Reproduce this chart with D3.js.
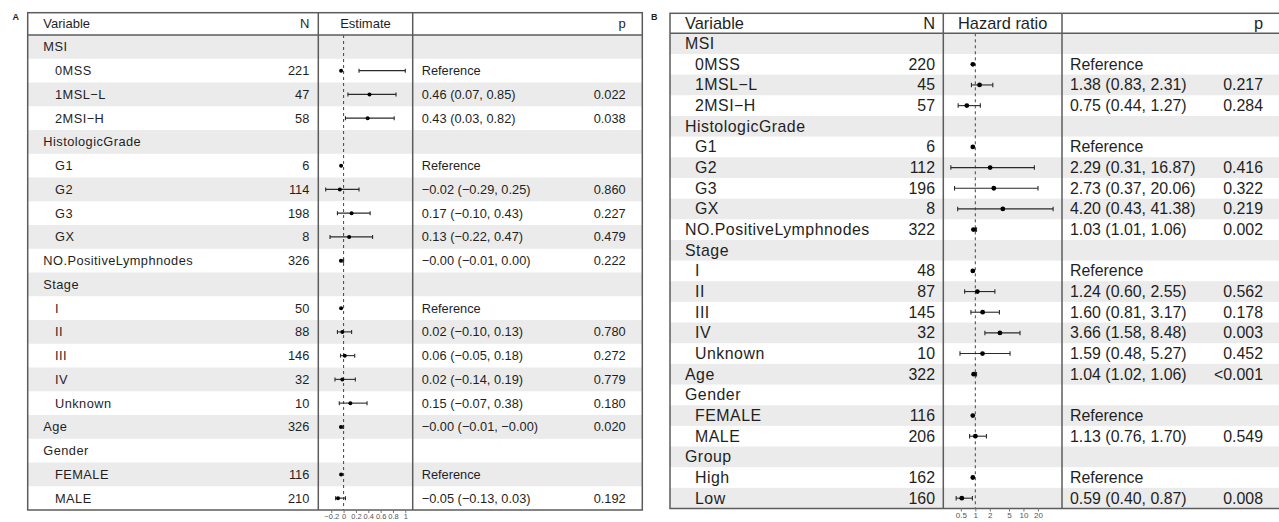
<!DOCTYPE html>
<html>
<head>
<meta charset="utf-8">
<script src="https://cdn.jsdelivr.net/npm/d3@7"></script>
<style>
  html, body { margin: 0; padding: 0; background: #fff; }
  svg { display: block; font-family: "Liberation Sans", Arial, Helvetica, sans-serif; }
</style>
</head>
<body>
<svg id="chart" width="1279" height="522"></svg>
<script>
// ---- Panel A: linear regression estimates ----
const labelsA = ["MSI", "0MSS", "1MSL−L", "2MSI−H", "HistologicGrade", "G1", "G2", "G3", "GX",
  "NO.PositiveLymphnodes", "Stage", "I", "II", "III", "IV", "Unknown", "Age", "Gender", "FEMALE", "MALE"];
const indentA = [0, 1, 1, 1, 0, 1, 1, 1, 1, 0, 0, 1, 1, 1, 1, 1, 0, 0, 1, 1];
const nA = [null, 221, 47, 58, null, 6, 114, 198, 8, 326, null, 50, 88, 146, 32, 10, 326, null, 116, 210];
const refA = [0, 1, 0, 0, 0, 1, 0, 0, 0, 0, 0, 1, 0, 0, 0, 0, 0, 0, 1, 0];
const estA = [null, 0, 0.46, 0.43, null, 0, -0.02, 0.17, 0.13, -0.003, null, 0, 0.02, 0.06, 0.02, 0.15, -0.003, null, 0, -0.05];
const lowA = [null, 0.25, 0.07, 0.03, null, null, -0.29, -0.10, -0.22, -0.01, null, null, -0.10, -0.05, -0.14, -0.07, -0.01, null, null, -0.13];
const highA = [null, 1.0, 0.85, 0.82, null, null, 0.25, 0.43, 0.47, 0.00, null, null, 0.13, 0.18, 0.19, 0.38, -0.001, null, null, 0.03];
const pA = ["", "", "0.022", "0.038", "", "", "0.860", "0.227", "0.479", "0.222", "", "", "0.780", "0.272", "0.779", "0.180", "0.020", "", "", "0.192"];
const ticksA = [-0.2, 0, 0.2, 0.4, 0.6, 0.8, 1];

// ---- Panel B: Cox hazard ratios ----
const labelsB = ["MSI", "0MSS", "1MSL−L", "2MSI−H", "HistologicGrade", "G1", "G2", "G3", "GX",
  "NO.PositiveLymphnodes", "Stage", "I", "II", "III", "IV", "Unknown", "Age", "Gender", "FEMALE", "MALE",
  "Group", "High", "Low"];
const indentB = [0, 1, 1, 1, 0, 1, 1, 1, 1, 0, 0, 1, 1, 1, 1, 1, 0, 0, 1, 1, 0, 1, 1];
const nB = [null, 220, 45, 57, null, 6, 112, 196, 8, 322, null, 48, 87, 145, 32, 10, 322, null, 116, 206, null, 162, 160];
const refB = [0, 1, 0, 0, 0, 1, 0, 0, 0, 0, 0, 1, 0, 0, 0, 0, 0, 0, 1, 0, 0, 1, 0];
const estB = [null, 1, 1.38, 0.75, null, 1, 2.29, 2.73, 4.20, 1.03, null, 1, 1.24, 1.60, 3.66, 1.59, 1.04, null, 1, 1.13, null, 1, 0.59];
const lowB = [null, null, 0.83, 0.44, null, null, 0.31, 0.37, 0.43, 1.01, null, null, 0.60, 0.81, 1.58, 0.48, 1.02, null, null, 0.76, null, null, 0.40];
const highB = [null, null, 2.31, 1.27, null, null, 16.87, 20.06, 41.38, 1.06, null, null, 2.55, 3.17, 8.48, 5.27, 1.06, null, null, 1.70, null, null, 0.87];
const pB = ["", "", "0.217", "0.284", "", "", "0.416", "0.322", "0.219", "0.002", "", "", "0.562", "0.178", "0.003", "0.452", "<0.001", "", "", "0.549", "", "", "0.008"];
const ticksB = [0.5, 1, 2, 5, 10, 20];

const svg = d3.select("#chart");
const BAND = "#ebebeb", BORDER = "#5c5c5c", INK = "#1f1f1f", MARK = "#2a2a2a";
const POINT_NUDGE = -2.5;   // point glyph sits slightly left of its value

const fmt2 = v => (v < 0 ? "\u2212" : "") + Math.abs(v).toFixed(2);

function drawPanel(cfg) {
  const g = svg.append("g");
  const rows = cfg.labels.map((l, i) => ({
    i, label: l, indent: cfg.indent[i], n: cfg.n[i], ref: cfg.ref[i],
    est: cfg.est[i], low: cfg.low[i], high: cfg.high[i], p: cfg.p[i]
  }));

  const y = d3.scaleBand().domain(rows.map(r => r.i)).range([cfg.headBottom, cfg.bottom]).padding(0);
  const x = cfg.x;

  // alternating row shading
  g.selectAll("rect.band").data(rows.filter(r => r.i % 2 === 0)).join("rect")
    .attr("x", cfg.left).attr("width", cfg.right - cfg.left)
    .attr("y", r => y(r.i)).attr("height", y.bandwidth())
    .attr("fill", BAND);

  // reference line
  g.append("line")
    .attr("x1", x(cfg.nullValue)).attr("x2", x(cfg.nullValue))
    .attr("y1", cfg.headBottom).attr("y2", cfg.bottom)
    .attr("stroke", "#444").attr("stroke-width", 1).attr("stroke-dasharray", "3,3");

  // confidence intervals
  const ci = rows.filter(r => r.low != null && r.high != null);
  g.selectAll("line.ci").data(ci).join("line")
    .attr("x1", r => x(r.low)).attr("x2", r => x(r.high))
    .attr("y1", r => y(r.i) + y.bandwidth() / 2).attr("y2", r => y(r.i) + y.bandwidth() / 2)
    .attr("stroke", MARK).attr("stroke-width", 1.1);
  ["low", "high"].forEach(k => {
    g.selectAll("line.cap-" + k).data(ci).join("line")
      .attr("x1", r => x(r[k])).attr("x2", r => x(r[k]))
      .attr("y1", r => y(r.i) + y.bandwidth() / 2 - cfg.cap / 2)
      .attr("y2", r => y(r.i) + y.bandwidth() / 2 + cfg.cap / 2)
      .attr("stroke", MARK).attr("stroke-width", 1.1);
  });

  // point estimates
  g.selectAll("circle.pt").data(rows.filter(r => r.est != null)).join("circle")
    .attr("cx", r => x(r.est) + POINT_NUDGE)
    .attr("cy", r => y(r.i) + y.bandwidth() / 2)
    .attr("r", cfg.pointR).attr("fill", "#000");

  // text columns
  const rowText = (sel) => sel.attr("fill", INK).attr("font-size", cfg.fontSize).attr("dominant-baseline", "central");
  g.selectAll("text.lab").data(rows).join("text")
    .attr("x", r => r.indent ? cfg.indentX : cfg.varX)
    .attr("y", r => y(r.i) + y.bandwidth() / 2)
    .attr("letter-spacing", cfg.labelSpacing)
    .text(r => r.label).call(rowText);
  g.selectAll("text.n").data(rows.filter(r => r.n != null)).join("text")
    .attr("x", cfg.nRight).attr("text-anchor", "end")
    .attr("y", r => y(r.i) + y.bandwidth() / 2)
    .text(r => r.n).call(rowText);
  g.selectAll("text.est").data(rows.filter(r => r.est != null)).join("text")
    .attr("x", cfg.textX)
    .attr("y", r => y(r.i) + y.bandwidth() / 2)
    .text(r => r.ref ? "Reference" : `${fmt2(r.est)} (${fmt2(r.low)}, ${fmt2(r.high)})`)
    .call(rowText);
  g.selectAll("text.p").data(rows.filter(r => r.p)).join("text")
    .attr("x", cfg.pRight).attr("text-anchor", "end")
    .attr("y", r => y(r.i) + y.bandwidth() / 2)
    .text(r => r.p).call(rowText);

  // header
  const headY = (cfg.top + cfg.headBottom) / 2;
  const head = (sel) => sel.attr("y", headY).attr("fill", INK).attr("font-size", cfg.headSize).attr("dominant-baseline", "central");
  g.append("text").attr("x", cfg.varX).text("Variable").call(head);
  g.append("text").attr("x", cfg.nRight).attr("text-anchor", "end").text("N").call(head);
  g.append("text").attr("x", (cfg.div1 + cfg.div2) / 2).attr("text-anchor", "middle").text(cfg.title).call(head);
  g.append("text").attr("x", cfg.pRight).attr("text-anchor", "end").text("p").call(head);

  // frame and column rules
  const frame = (sel) => sel.attr("stroke", BORDER).attr("stroke-width", 1.5).attr("fill", "none");
  g.append("rect").attr("x", cfg.left).attr("y", cfg.top)
    .attr("width", cfg.right - cfg.left).attr("height", cfg.bottom - cfg.top).call(frame);
  g.append("line").attr("x1", cfg.left).attr("x2", cfg.right)
    .attr("y1", cfg.headBottom).attr("y2", cfg.headBottom).call(frame);
  [cfg.div1, cfg.div2].forEach(d => {
    g.append("line").attr("x1", d).attr("x2", d).attr("y1", cfg.top).attr("y2", cfg.bottom).call(frame);
  });

  // axis under the estimate column
  const axis = d3.axisBottom(x).tickValues(cfg.ticks).tickSize(3).tickPadding(1).tickFormat(cfg.tickFormat);
  const ax = g.append("g").attr("transform", `translate(0,${cfg.bottom})`).call(axis);
  ax.select(".domain").remove();
  ax.selectAll("line").attr("stroke", "#777");
  ax.selectAll("text").attr("font-size", cfg.tickSize).attr("fill", "#555")
    .attr("font-family", "'Liberation Sans', Arial, sans-serif");

  // panel tag
  svg.append("text").attr("x", cfg.tagX).attr("y", cfg.tagY)
    .attr("font-size", 9).attr("font-weight", "bold").attr("fill", INK)
    .attr("dominant-baseline", "central").text(cfg.tag);
}

drawPanel({
  tag: "A", tagX: 12.5, tagY: 17,
  labels: labelsA, indent: indentA, n: nA, ref: refA, est: estA, low: lowA, high: highA, p: pA,
  left: 27.7, right: 642.3, top: 12.7, headBottom: 35, bottom: 510,
  varX: 43.3, indentX: 55, nRight: 309.3, div1: 318.3, div2: 412.7, textX: 421.7, pRight: 625.7,
  x: d3.scaleLinear().domain([-0.41, 1.12]).range([318.3, 412.7]),
  nullValue: 0, ticks: ticksA, tickFormat: d3.format(""), tickSize: 7.5,
  title: "Estimate", fontSize: 12.8, headSize: 13, labelSpacing: 0.45, cap: 4, pointR: 2
});

drawPanel({
  tag: "B", tagX: 651, tagY: 17,
  labels: labelsB, indent: indentB, n: nB, ref: refB, est: estB, low: lowB, high: highB, p: pB,
  left: 670, right: 1281, top: 13.3, headBottom: 33.3, bottom: 508.5,
  varX: 685, indentX: 695, nRight: 935, div1: 943.3, div2: 1062, textX: 1070, pRight: 1263,
  x: d3.scaleLog().domain([0.216, 63.3]).range([943.3, 1062]),
  nullValue: 1, ticks: ticksB, tickFormat: d => String(d), tickSize: 8,
  title: "Hazard ratio", fontSize: 15.9, headSize: 16.4, labelSpacing: 0.5, cap: 4.5, pointR: 2.4
});
</script>
</body>
</html>
